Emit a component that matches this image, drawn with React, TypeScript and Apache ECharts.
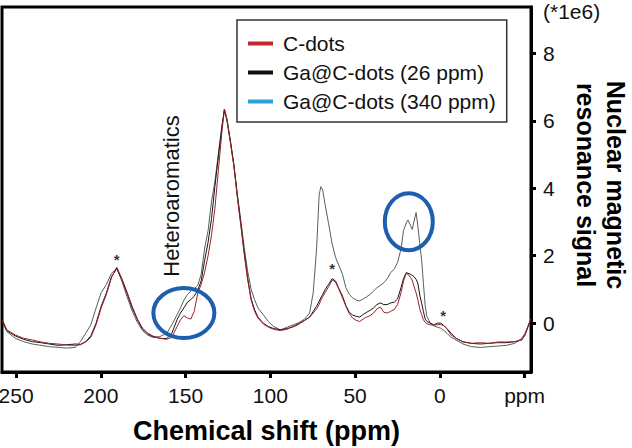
import React, { useEffect, useRef } from "react";
import * as echarts from "echarts";

// Chemical shift grid (ppm) shared by the three spectra
const ppm = [
  258, 255.5, 250.5, 245.5, 240.4, 235.3, 230.3, 225.2, 220.1, 215,
  212, 208.9, 205.9, 202.8, 199.8, 196.7, 193.7, 190.6, 187.6, 184.5,
  181.5, 178.4, 175.4, 172.3, 169.3, 165.2, 161.1, 158.1, 155, 153,
  151, 148.9, 146.9, 144.9, 142.8, 140.8, 138.8, 136.7, 134.7, 132.7,
  130.6, 128.6, 127.1, 125.6, 123.5, 121.5, 119.5, 117.4, 115.4, 113.4,
  111.3, 109.3, 107.3, 104.2, 101.2, 98.1, 94, 90, 85.9, 82.9,
  79.8, 76.8, 74.7, 72.7, 71.2, 70.2, 69.1, 67.6, 65.6, 63.5,
  61.5, 59.5, 57.4, 55.4, 53.4, 51.4, 49.3, 47.3, 45.2, 43.2,
  41.2, 39.1, 37.1, 35.1, 33, 31, 29, 26.9, 24.9, 22.9,
  21.4, 19.8, 18.8, 17.3, 16.3, 15.3, 14, 13, 11.7, 10.7,
  9.7, 8.6, 7.6, 5.6, 3.6, 1.5, -0.5, -2.5, -4.6, -6.6,
  -9.6, -13.7, -18.8, -23.9, -29, -34, -39.1, -44.2, -48.3, -50.3,
  -52.4, -53.5,
];

// Signal (x1e6)
const cDots = [
  0.1, -0.2, -0.35, -0.45, -0.5, -0.56, -0.6, -0.62, -0.65, -0.66,
  -0.64, -0.56, -0.42, -0.05, 0.45, 0.85, 1.35, 1.66, 1.32, 0.92,
  0.5, 0.12, -0.15, -0.3, -0.38, -0.45, -0.48, -0.42, -0.1, 0.1,
  0.22, 0.15, 0.12, 0.35, 0.89, 1.15, 1.5, 2.0, 2.6, 3.4,
  4.55, 5.65, 6.35, 6.05, 5.35, 4.65, 3.75, 2.9, 2.05, 1.3,
  0.68, 0.35, 0.15, -0.02, -0.12, -0.18, -0.22, -0.18, -0.08, 0.0,
  0.08, 0.18, 0.3, 0.42, 0.55, 0.68, 0.78, 0.92, 1.08, 1.28,
  1.22, 1.0, 0.75, 0.5, 0.28, 0.15, 0.08, 0.05, 0.12, 0.18,
  0.22, 0.3, 0.42, 0.48, 0.32, 0.3, 0.35, 0.4, 0.55, 0.9,
  1.25, 1.48, 1.45, 1.35, 1.28, 1.1, 0.9, 0.7, 0.4, 0.25,
  0.1, 0.02, -0.02, -0.05, -0.06, -0.05, -0.04, -0.08, -0.2, -0.35,
  -0.45, -0.55, -0.6, -0.58, -0.6, -0.56, -0.56, -0.55, -0.5, -0.35,
  -0.05, 0.1,
];

const ga26 = [
  0.05, -0.22, -0.38, -0.48, -0.55, -0.58, -0.62, -0.66, -0.64, -0.62,
  -0.63, -0.55, -0.38, 0.0, 0.5, 0.9, 1.38, 1.62, 1.3, 0.88,
  0.45, 0.1, -0.18, -0.32, -0.4, -0.45, -0.46, -0.3, 0.1, 0.3,
  0.45, 0.62, 0.7, 0.8, 0.98, 1.25, 1.85, 2.4, 3.1, 4.05,
  4.95, 5.8, 6.35, 6.05, 5.4, 4.7, 3.8, 2.95, 2.1, 1.35,
  0.72, 0.4, 0.18, 0.0, -0.1, -0.16, -0.2, -0.16, -0.1, -0.02,
  0.08, 0.18, 0.35, 0.5, 0.65, 0.75, 0.85, 1.0, 1.15, 1.32,
  1.25, 1.02, 0.8, 0.52, 0.32, 0.24, 0.2, 0.18, 0.26, 0.32,
  0.38, 0.45, 0.55, 0.6, 0.55, 0.55, 0.6, 0.62, 0.72, 1.05,
  1.32, 1.5, 1.48, 1.45, 1.42, 1.38, 1.3, 1.19, 0.8, 0.59,
  0.35, 0.12, 0.05, 0.0, -0.05, 0.0, 0.0, -0.08, -0.18, -0.3,
  -0.45, -0.56, -0.6, -0.62, -0.6, -0.58, -0.58, -0.55, -0.5, -0.35,
  -0.05, 0.08,
];

const ga340 = [
  0.05, -0.25, -0.45, -0.55, -0.62, -0.66, -0.7, -0.72, -0.74, -0.72,
  -0.55, -0.3, -0.05, 0.45, 0.9, 1.15, 1.48, 1.62, 1.25, 0.78,
  0.36, 0.02, -0.22, -0.36, -0.42, -0.4, -0.3, -0.05, 0.25, 0.45,
  0.68, 0.85, 0.95, 1.02, 1.12, 1.45, 2.2, 2.75, 3.6, 4.2,
  5.05, 5.85, 6.3, 6.0, 5.35, 4.7, 3.85, 3.05, 2.25, 1.55,
  1.0, 0.7, 0.45, 0.25, 0.05, -0.1, -0.2, -0.12, -0.04, 0.02,
  0.12, 0.3, 0.9, 2.2, 3.8, 4.05, 3.95, 3.5, 2.95, 2.35,
  1.95, 1.7, 1.45, 1.05, 0.85, 0.75, 0.68, 0.66, 0.72, 0.78,
  0.85, 0.95, 1.05, 1.12, 1.2, 1.32, 1.5, 1.6, 1.8, 2.2,
  2.75, 2.97, 3.06, 2.9, 2.78, 3.0, 3.28, 2.9, 2.3, 1.87,
  1.2, 0.5, 0.2, 0.0, -0.08, -0.12, -0.15, -0.22, -0.32, -0.42,
  -0.5, -0.62, -0.7, -0.72, -0.7, -0.68, -0.66, -0.6, -0.45, -0.3,
  -0.05, 0.12,
];

// Asterisk annotations (ppm, signal)
const starPpm = [190.6, 63.5, -2];
const starSignal = [1.88, 1.62, 0.24];

// Blue annotation ellipses (centre in data units, radii in px)
const ellipsePpm = [151, 18.3];
const ellipseSignal = [0.3, 3.01];
const ellipseRx = [30.5, 24];
const ellipseRy = [25, 28.5];

// Heteroaromatics label (data anchor)
const heteroPpm = 158.1;
const heteroSignal = 3.77;

const xTicks = [250, 200, 150, 100, 50, 0, -50];
const yTicks = [0, 2, 4, 6, 8];
const X_MIN = -53.8;
const X_MAX = 258.3;
const Y_MIN = -1.45;
const Y_MAX = 9.38;

const seriesNames = ["C-dots", "Ga@C-dots (26 ppm)", "Ga@C-dots (340 ppm)"];
const legendColors = ["#c0282d", "#111111", "#2ba3d6"];
const traceColors = ["#9a2226", "#151515", "#55605f"];

const FONT = "'Liberation Sans', Arial, Helvetica, sans-serif";

export default function App() {
  const ref = useRef<HTMLDivElement>(null);

  useEffect(() => {
    if (!ref.current) return;
    const chart = echarts.init(ref.current, null, { renderer: "svg" });

    const values = [cDots, ga26, ga340];
    const lineSeries = [2, 1, 0].map((k) => ({
      type: "line",
      name: seriesNames[k],
      data: ppm.map((x, i) => [x, values[k][i]]),
      symbol: "none",
      lineStyle: { color: traceColors[k], width: 1 },
      itemStyle: { color: traceColors[k] },
      z: 2 + (2 - k),
    }));

    const option: any = {
      animation: false,
      backgroundColor: "#ffffff",
      grid: {
        left: 2,
        right: 101,
        top: 7,
        bottom: 76,
        containLabel: false,
        outerBoundsMode: "none",
        show: true,
        borderColor: "#000",
        borderWidth: 3,
        backgroundColor: "transparent",
      },
      legend: {
        orient: "vertical",
        left: 237,
        top: 20,
        padding: [13, 11, 10, 11],
        itemGap: 8,
        itemWidth: 25,
        itemHeight: 4,
        icon: "rect",
        borderColor: "#333",
        borderWidth: 1.5,
        backgroundColor: "#fff",
        selectedMode: false,
        textStyle: {
          fontSize: 21,
          color: "#111",
          fontFamily: FONT,
          padding: [0, 0, 0, 5],
        },
        data: seriesNames.map((n, k) => ({
          name: n,
          itemStyle: {
            color: legendColors[k],
            borderColor: legendColors[k],
            borderWidth: 0,
          },
        })),
      },
      xAxis: {
        type: "value",
        inverse: true,
        min: X_MIN,
        max: X_MAX,
        axisLine: { show: true, onZero: false, lineStyle: { color: "#000", width: 3 } },
        axisTick: {
          show: true,
          length: 6,
          customValues: xTicks,
          lineStyle: { color: "#000", width: 3 },
        },
        axisLabel: {
          customValues: xTicks,
          formatter: (v: number) => (v === -50 ? "ppm" : String(v)),
          fontSize: 21,
          color: "#111",
          margin: 13,
          fontFamily: FONT,
        },
        splitLine: { show: false },
        name: "Chemical shift (ppm)",
        nameLocation: "middle",
        nameGap: 45,
        nameTextStyle: {
          fontSize: 27,
          fontWeight: "bold",
          color: "#000",
          fontFamily: FONT,
        },
      },
      yAxis: {
        type: "value",
        position: "right",
        min: Y_MIN,
        max: Y_MAX,
        axisLine: { show: true, onZero: false, lineStyle: { color: "#000", width: 3 } },
        axisTick: {
          show: true,
          length: 5,
          customValues: yTicks,
          lineStyle: { color: "#000", width: 3 },
        },
        axisLabel: {
          customValues: yTicks,
          fontSize: 21,
          color: "#111",
          margin: 12,
          fontFamily: FONT,
        },
        splitLine: { show: false },
      },
      series: [
        ...lineSeries,
        {
          type: "scatter",
          name: "marks",
          data: starPpm.map((x, i) => [x, starSignal[i]]),
          symbolSize: 1,
          itemStyle: { color: "transparent" },
          z: 6,
          label: {
            show: true,
            position: "inside",
            formatter: "*",
            fontSize: 15,
            fontWeight: "bold",
            color: "#000",
            fontFamily: FONT,
          },
        },
      ],
    };

    chart.setOption(option);

    const graphics: any[] = [];
    ellipsePpm.forEach((x, i) => {
      const p = chart.convertToPixel({ gridIndex: 0 }, [x, ellipseSignal[i]]) as number[];
      graphics.push({
        type: "ellipse",
        shape: { cx: p[0], cy: p[1], rx: ellipseRx[i], ry: ellipseRy[i] },
        style: { fill: "none", stroke: "#1d5fae", lineWidth: 4 },
        z: 10,
      });
    });
    const hp = chart.convertToPixel({ gridIndex: 0 }, [heteroPpm, heteroSignal]) as number[];
    graphics.push({
      type: "text",
      x: hp[0],
      y: hp[1],
      rotation: Math.PI / 2,
      style: {
        text: "Heteroaromatics",
        fontSize: 22,
        fill: "#111",
        fontFamily: FONT,
        align: "center",
        verticalAlign: "middle",
      },
      z: 10,
    });
    graphics.push({
      type: "text",
      x: 601,
      y: 185,
      rotation: -Math.PI / 2,
      style: {
        text: "Nuclear magnetic\nresonance signal",
        fontSize: 25,
        fontWeight: "bold",
        lineHeight: 30,
        fill: "#000",
        fontFamily: FONT,
        align: "center",
        verticalAlign: "middle",
      },
      z: 10,
    });
    graphics.push({
      type: "text",
      x: 543,
      y: 11,
      style: {
        text: "(*1e6)",
        fontSize: 21,
        fill: "#111",
        fontFamily: FONT,
        align: "left",
        verticalAlign: "middle",
      },
      z: 10,
    });
    chart.setOption({ graphic: graphics });

    return () => chart.dispose();
  }, []);

  return (
    <div
      ref={ref}
      style={{ position: "fixed", left: 0, top: 0, width: 632, height: 448, background: "#fff" }}
    />
  );
}
